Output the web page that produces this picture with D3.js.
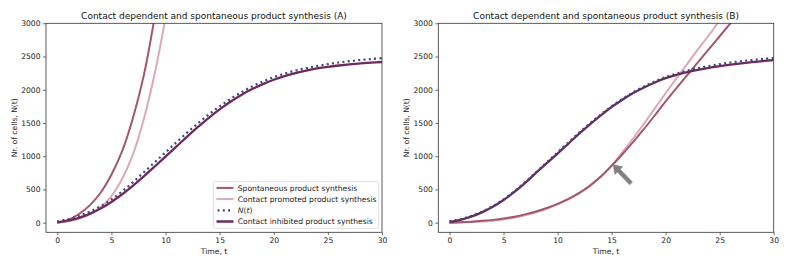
<!DOCTYPE html>
<html>
<head>
<meta charset="utf-8">
<script src="https://cdn.jsdelivr.net/npm/d3@7"></script>
<style>
  body { margin: 0; background: #fff; }
  svg { font-family: "DejaVu Sans", sans-serif; }
</style>
</head>
<body>
<svg id="chart" width="789" height="262"></svg>
<script>
// time grid (shared by all series, shorter series use the first n points)
const time = d3.range(0, 31);

// panel A
const spontA  = [0, 40, 130, 260, 450, 720, 1080, 1580, 2220, 3100, 4200];
const promotA = [0, 20, 60, 125, 230, 400, 660, 1030, 1560, 2240, 3080, 4050];
const nT      = [20, 52, 100, 165, 248, 350, 472, 610, 758, 908, 1058, 1208, 1355, 1495, 1628, 1750,
                 1862, 1962, 2050, 2125, 2190, 2243, 2288, 2325, 2357, 2385, 2410, 2430, 2448, 2462, 2475];
const inhibA  = [5, 30, 72, 132, 212, 312, 428, 558, 698, 845, 995, 1145, 1295, 1440, 1578, 1705,
                 1820, 1922, 2010, 2085, 2150, 2205, 2250, 2288, 2320, 2345, 2365, 2382, 2396, 2408, 2418];

// panel B
const spontB  = [0, 6, 15, 27, 42, 62, 90, 125, 168, 220, 283, 358, 448, 560, 695, 855,
                 1030, 1215, 1410, 1615, 1825, 2025, 2220, 2415, 2610, 2805, 3000, 3195];
const promotB = [0, 4, 10, 18, 30, 48, 75, 110, 155, 210, 275, 350, 440, 550, 690, 860,
                 1060, 1270, 1490, 1720, 1950, 2170, 2390, 2610, 2820, 3040, 3250];
const inhibB  = [10, 42, 90, 155, 238, 340, 462, 600, 748, 895, 1040, 1190, 1340, 1480, 1615, 1740,
                 1850, 1950, 2035, 2110, 2175, 2225, 2265, 2300, 2330, 2355, 2378, 2398, 2415, 2432, 2448];

// arrow in panel B: [t, N] tail -> head
const arrowTail = [16.8, 590];
const arrowHead = [15.15, 870];

const xTicks = [0, 5, 10, 15, 20, 25, 30];
const yTicks = [0, 500, 1000, 1500, 2000, 2500, 3000];

const colSpont = "#a3566f", colPromot = "#dcaab6", colInhib = "#6d2a5f", colN = "#3d4677";

const svg = d3.select("#chart");

function drawPanel(left, right, title, series, tag, withLegend) {
    const top = 23.3, bottom = 232.3;
    const x = d3.scaleLinear().domain([-1.04, 30]).range([left, right]);
    const y = d3.scaleLinear().domain([-145, 3000]).range([bottom, top]);

    const g = svg.append("g");

    g.append("clipPath").attr("id", "clip" + tag)
        .append("rect").attr("x", left).attr("y", top)
        .attr("width", right - left).attr("height", bottom - top);

    const plot = g.append("g").attr("clip-path", `url(#clip${tag})`);
    const line = d3.line().x(d => x(d[0])).y(d => y(d[1])).curve(d3.curveCatmullRom.alpha(0.5));

    series.forEach(s => {
        const pts = s.values.map((v, i) => [time[i], v]);
        const p = plot.append("path").datum(pts)
            .attr("d", line)
            .attr("fill", "none")
            .attr("stroke", s.color)
            .attr("stroke-width", s.width);
        if (s.dash) p.attr("stroke-dasharray", s.dash);
    });

    // axes
    const xAxis = d3.axisBottom(x).tickValues(xTicks).tickSize(3).tickPadding(2.5).tickFormat(d3.format("d"));
    const yAxis = d3.axisLeft(y).tickValues(yTicks).tickSize(3).tickPadding(2.5).tickFormat(d3.format("d"));
    const gx = g.append("g").attr("transform", `translate(0,${bottom})`).call(xAxis);
    const gy = g.append("g").attr("transform", `translate(${left},0)`).call(yAxis);
    [gx, gy].forEach(a => {
        a.select(".domain").remove();
        a.selectAll("line").attr("stroke", "#333").attr("stroke-width", 0.7);
        a.selectAll("text").attr("fill", "#222").style("font-size", "7.6px")
            .style("font-family", "DejaVu Sans");
    });

    // frame
    g.append("rect").attr("x", left).attr("y", top)
        .attr("width", right - left).attr("height", bottom - top)
        .attr("fill", "none").attr("stroke", "#333").attr("stroke-width", 0.8);

    g.append("text").attr("x", (left + right) / 2).attr("y", 19)
        .attr("text-anchor", "middle").style("font-size", "9px").attr("fill", "#111")
        .text(title);
    g.append("text").attr("x", (left + right) / 2).attr("y", 253.8)
        .attr("text-anchor", "middle").style("font-size", "7.6px").attr("fill", "#222")
        .text("Time, t");
    g.append("text")
        .attr("transform", `translate(${left - 29},${(top + bottom) / 2}) rotate(-90)`)
        .attr("text-anchor", "middle").style("font-size", "7.6px").attr("fill", "#222")
        .text("Nr. of cells, N(t)");

    if (withLegend) {
        const lg = g.append("g");
        lg.append("rect").attr("x", 213.3).attr("y", 181.7).attr("width", 165.4).attr("height", 46.6)
            .attr("rx", 2).attr("fill", "#fff").attr("fill-opacity", 0.85)
            .attr("stroke", "#d6d6d6").attr("stroke-width", 0.8);
        const items = [
            { label: "Spontaneous product synthesis", color: colSpont, width: 2 },
            { label: "Contact promoted product synthesis", color: colPromot, width: 2 },
            { label: "N(t)", color: colN, width: 2.2, dash: "2,3.3", math: true },
            { label: "Contact inhibited product synthesis", color: colInhib, width: 2.5 }
        ];
        items.forEach((it, i) => {
            const yy = 187.9 + i * 11.2;
            const l = lg.append("line").attr("x1", 216.5).attr("x2", 233.5)
                .attr("y1", yy).attr("y2", yy)
                .attr("stroke", it.color).attr("stroke-width", it.width);
            if (it.dash) l.attr("stroke-dasharray", it.dash).attr("x1", 217.5);
            const t = lg.append("text").attr("x", 237.8).attr("y", yy + 2.7)
                .style("font-size", "7.6px").attr("fill", "#222");
            if (it.math) {
                t.append("tspan").style("font-style", "italic").text("N");
                t.append("tspan").text("(");
                t.append("tspan").style("font-style", "italic").text("t");
                t.append("tspan").text(")");
            } else {
                t.text(it.label);
            }
        });
    }
    return { x, y, g };
}

drawPanel(46, 382, "Contact dependent and spontaneous product synthesis (A)", [
    { values: spontA, color: colSpont, width: 2 },
    { values: promotA, color: colPromot, width: 2 },
    { values: nT, color: colN, width: 2.2, dash: "2,3.3" },
    { values: inhibA, color: colInhib, width: 2.3 }
], "A", true);

const pB = drawPanel(438.3, 773.7, "Contact dependent and spontaneous product synthesis (B)", [
    { values: promotB, color: colPromot, width: 2 },
    { values: spontB, color: colSpont, width: 2 },
    { values: inhibB, color: colInhib, width: 2.3 },
    { values: nT, color: colN, width: 2.2, dash: "2,3.3" }
], "B", false);

// gray arrow
(function () {
    const x0 = pB.x(arrowTail[0]), y0 = pB.y(arrowTail[1]);
    const x1 = pB.x(arrowHead[0]), y1 = pB.y(arrowHead[1]);
    const ang = Math.atan2(y1 - y0, x1 - x0);
    const len = Math.hypot(x1 - x0, y1 - y0);
    const hw = 2, headW = 5.5, headL = 8;
    const pts = [
        [0, -hw], [len - headL, -hw], [len - headL, -headW], [len, 0],
        [len - headL, headW], [len - headL, hw], [0, hw]
    ];
    pB.g.append("polygon")
        .attr("points", pts.map(p => p.join(",")).join(" "))
        .attr("transform", `translate(${x0},${y0}) rotate(${ang * 180 / Math.PI})`)
        .attr("fill", "#808080").attr("stroke", "#808080").attr("stroke-width", 0.5);
})();
</script>
</body>
</html>
